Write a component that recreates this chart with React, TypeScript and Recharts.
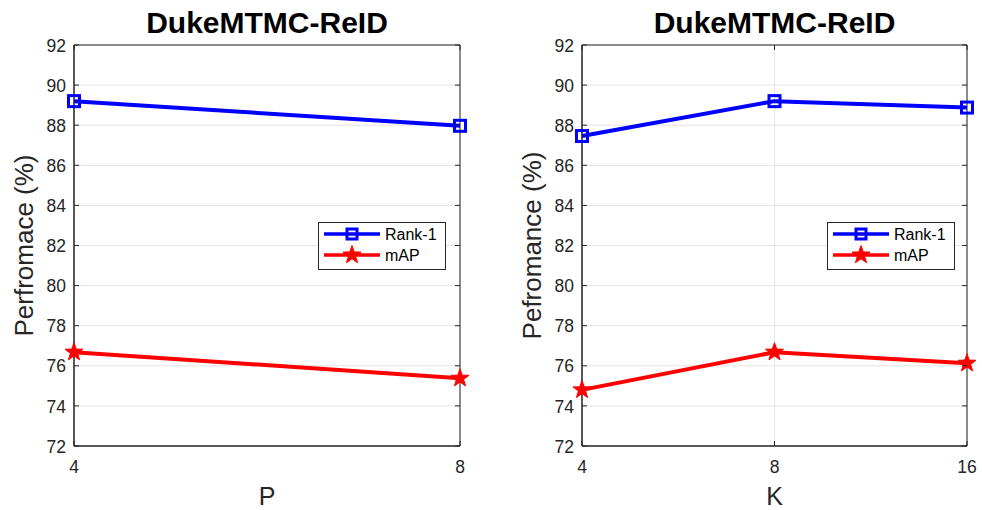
import React from 'react';
import { LineChart, Line, XAxis, YAxis, CartesianGrid, Legend, ReferenceArea } from 'recharts';

// ---- data ----
const titleText = 'DukeMTMC-ReID';
const seriesNames = ['Rank-1', 'mAP'];
const pValues = ['4', '8'];
const pRank1 = [89.2, 87.97];
const pMAP = [76.68, 75.38];
const kValues = ['4', '8', '16'];
const kRank1 = [87.46, 89.2, 88.88];
const kMAP = [74.8, 76.68, 76.13];
const yTicks = [72, 74, 76, 78, 80, 82, 84, 86, 88, 90, 92];

// ---- style ----
const FONT = '"Liberation Sans", Arial, Helvetica, sans-serif';
const AX = '#262626';
const GRID = '#e4e4e4';
const BLUE = '#0000ff';
const RED = '#ff0000';

const W = 491;
const H = 510;
const TOP = 45;
const XAXIS_H = 64;

function starPath(cx: number, cy: number, R: number, r: number) {
  let d = '';
  for (let i = 0; i < 10; i++) {
    const a = (-90 + i * 36) * Math.PI / 180;
    const rad = i % 2 === 0 ? R : r;
    d += (i === 0 ? 'M' : 'L') + (cx + rad * Math.cos(a)).toFixed(2) + ',' + (cy + rad * Math.sin(a)).toFixed(2);
  }
  return d + 'Z';
}

const SquareDot = (props: any) => {
  const { cx, cy } = props;
  if (cx == null || cy == null) return null;
  return <rect x={cx - 5.5} y={cy - 5.5} width={11} height={11} fill="none" stroke={BLUE} strokeWidth={3} />;
};

const StarDot = (props: any) => {
  const { cx, cy } = props;
  if (cx == null || cy == null) return null;
  return <path d={starPath(cx, cy, 9.5, 3.8)} fill={RED} stroke={RED} strokeWidth={1} />;
};

const renderLegend = (props: any) => {
  const payload = props.payload || [];
  return (
    <svg width={128} height={48} style={{ display: 'block' }}>
      <rect x={0.5} y={0.5} width={127} height={47} fill="#fff" stroke={AX} strokeWidth={1} />
      {payload.map((entry: any, i: number) => {
        const cy = 12 + i * 21;
        const isRank = entry.dataKey === 'rank1';
        const color = isRank ? BLUE : RED;
        return (
          <g key={String(entry.dataKey)}>
            <line x1={6} x2={62} y1={cy} y2={cy} stroke={color} strokeWidth={3.5} />
            {isRank ? (
              <rect x={34 - 5} y={cy - 5} width={10} height={10} fill="none" stroke={BLUE} strokeWidth={3} />
            ) : (
              <path d={starPath(34, cy, 9.5, 3.8)} fill={RED} stroke={RED} strokeWidth={1} />
            )}
            <text x={67} y={cy + 5.8} fontSize={16} fill="#000" fontFamily={FONT}>{entry.value}</text>
          </g>
        );
      })}
    </svg>
  );
};

type PanelProps = {
  left: number;
  cats: string[];
  rank: number[];
  map: number[];
  xName: string;
  yName: string;
  yAxisWidth: number;
  rightMargin: number;
  legendLeft: number;
  labelDx: number;
};

function Panel(p: PanelProps) {
  const data = p.cats.map((c, i) => ({ cat: c, rank1: p.rank[i], map: p.map[i] }));
  const plotLeft = p.yAxisWidth;
  const plotRight = W - p.rightMargin;
  const plotTop = TOP;
  const plotBottom = H - XAXIS_H;

  const YTick = (t: any) => (
    <g>
      <text x={t.x} y={t.y} dy="0.38em" textAnchor="end" fontSize={17.5} fill={AX} fontFamily={FONT}>
        {t.payload.value}
      </text>
      <line x1={plotLeft} x2={plotLeft + 5} y1={t.y} y2={t.y} stroke={AX} strokeWidth={1} />
      <line x1={plotRight - 5} x2={plotRight} y1={t.y} y2={t.y} stroke={AX} strokeWidth={1} />
    </g>
  );

  const XTick = (t: any) => (
    <g>
      <text x={t.x} y={t.y} dy="0.71em" textAnchor="middle" fontSize={17.5} fill={AX} fontFamily={FONT}>
        {t.payload.value}
      </text>
      <line x1={t.x} x2={t.x} y1={plotBottom} y2={plotBottom - 5} stroke={AX} strokeWidth={1} />
      <line x1={t.x} x2={t.x} y1={plotTop} y2={plotTop + 5} stroke={AX} strokeWidth={1} />
    </g>
  );

  return (
    <div style={{ position: 'absolute', left: p.left, top: 0, width: W, height: H }}>
      <div
        style={{
          position: 'absolute',
          left: plotLeft,
          width: plotRight - plotLeft,
          top: 8,
          textAlign: 'center',
          fontSize: 30,
          lineHeight: '30px',
          fontWeight: 'bold',
          fontFamily: FONT,
          color: '#000',
          zIndex: 2,
        }}
      >
        {titleText}
      </div>
      <LineChart width={W} height={H} data={data} margin={{ top: TOP, right: p.rightMargin, bottom: 0, left: 0 }}>
        <CartesianGrid stroke={GRID} strokeWidth={1} vertical horizontal />
        <XAxis
          dataKey="cat"
          type="category"
          height={XAXIS_H}
          interval={0}
          tickLine={false}
          tickSize={0}
          tickMargin={15}
          axisLine={{ stroke: AX }}
          tick={<XTick />}
          label={{ value: p.xName, position: 'insideBottom', offset: 5.5, fontSize: 25, fill: AX, fontFamily: FONT }}
        />
        <YAxis
          type="number"
          domain={[72, 92]}
          ticks={yTicks}
          interval={0}
          width={p.yAxisWidth}
          tickLine={false}
          tickSize={0}
          tickMargin={8}
          axisLine={{ stroke: AX }}
          tick={<YTick />}
          label={{ value: p.yName, angle: -90, position: 'center', dx: p.labelDx, fontSize: 26, fill: AX, fontFamily: FONT }}
        />
        <ReferenceArea
          x1={p.cats[0]}
          x2={p.cats[p.cats.length - 1]}
          y1={72}
          y2={92}
          fill="none"
          fillOpacity={0}
          stroke={AX}
          strokeWidth={1}
        />
        <Legend
          layout="vertical"
          align="center"
          verticalAlign="middle"
          content={renderLegend}
          wrapperStyle={{ position: 'absolute', left: p.legendLeft, top: 222, width: 128, height: 48 }}
        />
        <Line
          dataKey="rank1"
          name={seriesNames[0]}
          stroke={BLUE}
          strokeWidth={4}
          dot={<SquareDot />}
          activeDot={false}
          isAnimationActive={false}
        />
        <Line
          dataKey="map"
          name={seriesNames[1]}
          stroke={RED}
          strokeWidth={4}
          dot={<StarDot />}
          activeDot={false}
          isAnimationActive={false}
        />
      </LineChart>
    </div>
  );
}

export default function App() {
  return (
    <div style={{ position: 'absolute', left: 0, top: 0, width: 982, height: 510, background: '#fff', fontFamily: FONT }}>
      <Panel
        left={0}
        cats={pValues}
        rank={pRank1}
        map={pMAP}
        xName="P"
        yName="Perfromace (%)"
        yAxisWidth={74}
        rightMargin={31}
        legendLeft={318}
        labelDx={-13}
      />
      <Panel
        left={491}
        cats={kValues}
        rank={kRank1}
        map={kMAP}
        xName="K"
        yName="Pefromance (%)"
        yAxisWidth={91}
        rightMargin={15}
        legendLeft={336}
        labelDx={-5}
      />
    </div>
  );
}
